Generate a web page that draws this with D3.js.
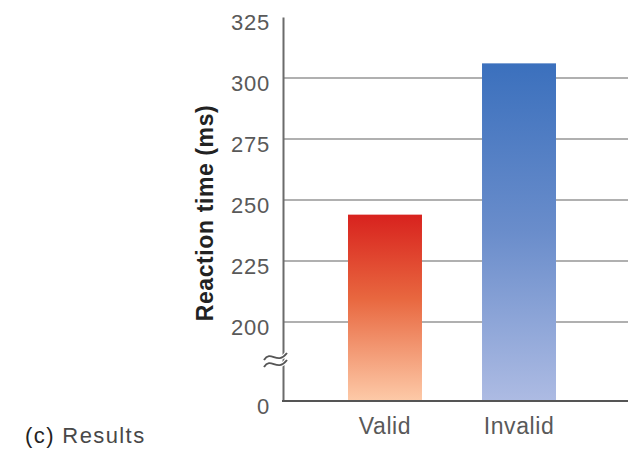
<!DOCTYPE html>
<html>
<head>
<meta charset="utf-8">
<script src="https://cdn.jsdelivr.net/npm/d3@7"></script>
<style>
  html, body { margin: 0; padding: 0; background: #fff; }
  svg { display: block; }
</style>
</head>
<body>
<svg id="chart" width="628" height="453"></svg>
<script>
// Mean reaction time by cue condition
const categories = ["Valid", "Invalid"];
const reactionTimes = [244, 306];
const tickValues = [0, 200, 225, 250, 275, 300, 325];
const gridValues = [200, 225, 250, 275, 300];

const svg = d3.select("#chart");
const W = 628, H = 453;
const axisX = 283;
const FONT = "Liberation Sans, Arial, sans-serif";

// Broken value axis: 0–200 squeezed into a short stub, 200–325 linear
const y = d3.scaleLinear()
  .domain([0, 200, 325])
  .range([401, 322, 17]);

const x = d3.scaleBand()
  .domain(categories)
  .range([axisX, 621])
  .paddingInner(0.448)
  .paddingOuter(0.485);

// Bar gradients
const defs = svg.append("defs");
const gradStops = [
  [{o: 0, c: "#d8221e"}, {o: 0.45, c: "#e8673f"}, {o: 1, c: "#fdcaa8"}],
  [{o: 0, c: "#3b70bd"}, {o: 0.5, c: "#6a8dcb"}, {o: 1, c: "#adbbe3"}]
];
categories.forEach((c, i) => {
  const g = defs.append("linearGradient")
    .attr("id", "grad" + i)
    .attr("x1", 0).attr("y1", 0).attr("x2", 0).attr("y2", 1);
  gradStops[i].forEach(s => g.append("stop").attr("offset", s.o).attr("stop-color", s.c));
});

// Horizontal gridlines
svg.append("g").selectAll("line")
  .data(gridValues)
  .join("line")
  .attr("x1", axisX).attr("x2", W)
  .attr("y1", d => y(d)).attr("y2", d => y(d))
  .attr("stroke", "#b0b0b0")
  .attr("stroke-width", 2);

// Bars
svg.append("g").selectAll("rect")
  .data(categories)
  .join("rect")
  .attr("x", d => x(d))
  .attr("width", x.bandwidth())
  .attr("y", (d, i) => y(reactionTimes[i]))
  .attr("height", (d, i) => y(0) - y(reactionTimes[i]))
  .attr("fill", (d, i) => `url(#grad${i})`);

// Y axis
const yAxis = d3.axisLeft(y).tickValues(tickValues).tickSize(0).tickPadding(13);
const gy = svg.append("g").attr("transform", `translate(${axisX},0)`).call(yAxis);
gy.select(".domain").attr("stroke", "#6b6b6b").attr("stroke-width", 2);
gy.selectAll("text")
  .attr("font-family", FONT)
  .attr("font-size", 22)
  .attr("letter-spacing", 0.8)
  .attr("dy", "0.55em")
  .attr("fill", "#595959");

// X axis
const xAxis = d3.axisBottom(x).tickSize(0).tickPadding(14);
const gx = svg.append("g").attr("transform", `translate(0,${y(0)})`).call(xAxis);
gx.select(".domain").remove();
gx.append("line")
  .attr("x1", axisX - 1).attr("x2", W)
  .attr("stroke", "#555").attr("stroke-width", 2);
gx.selectAll("text")
  .attr("font-family", FONT)
  .attr("font-size", 23)
  .attr("letter-spacing", 0.6)
  .attr("dy", "0.82em")
  .attr("fill", "#595959");

// Axis break mark
const brkY = 360;
const wave = (dy) => `M${axisX - 19},${brkY + dy + 3} C${axisX - 12},${brkY + dy - 8} ${axisX - 6},${brkY + dy + 9} ${axisX + 4},${brkY + dy - 4}`;
[-3, 4].forEach(dy => {
  svg.append("path").attr("d", wave(dy))
    .attr("fill", "none").attr("stroke", "#fff").attr("stroke-width", 4);
});
[-3, 4].forEach(dy => {
  svg.append("path").attr("d", wave(dy))
    .attr("fill", "none").attr("stroke", "#555").attr("stroke-width", 1.9);
});

// Y axis title
svg.append("text")
  .attr("transform", `translate(213,213) rotate(-90)`)
  .attr("text-anchor", "middle")
  .attr("font-family", FONT)
  .attr("font-weight", "bold")
  .attr("font-size", 23)
  .attr("letter-spacing", 0.6)
  .attr("fill", "#222")
  .text("Reaction time (ms)");

// Panel caption
const cap = svg.append("text")
  .attr("x", 25).attr("y", 443)
  .attr("font-family", FONT)
  .attr("font-size", 22)
  .attr("letter-spacing", 1.4)
  .attr("fill", "#484848");
cap.append("tspan").attr("fill", "#222").text("(c)");
cap.append("tspan").text(" Results");
</script>
</body>
</html>
